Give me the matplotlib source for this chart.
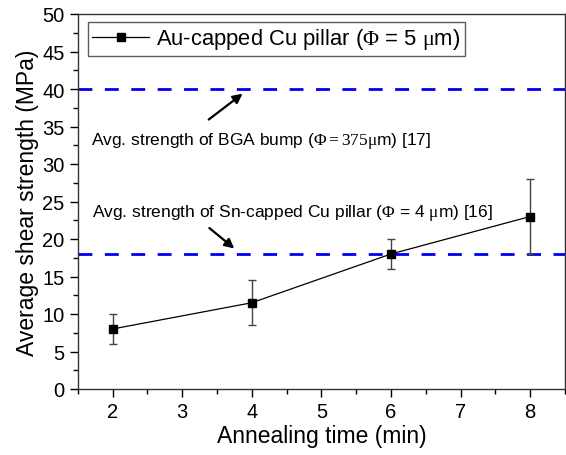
import numpy as np
import matplotlib
matplotlib.use("Agg")
import matplotlib.pyplot as plt
from matplotlib.ticker import MultipleLocator

plt.rcParams['font.family'] = ['Liberation Sans', 'DejaVu Sans']
plt.rcParams['mathtext.fontset'] = 'custom'
plt.rcParams['mathtext.rm'] = 'Liberation Serif'
plt.rcParams['mathtext.it'] = 'Liberation Serif'

# data
anneal_time = [2, 4, 6, 8]
shear_strength = [8.0, 11.5, 18.0, 23.0]
shear_err = [2.0, 3.0, 2.0, 5.0]
bga_strength = 40.0
sn_strength = 18.0

fig = plt.figure(figsize=(5.66, 4.56), dpi=100)
ax = fig.add_axes([77.7 / 566, 1 - 390 / 456, (565 - 77.7) / 566, (390 - 15) / 456])

# reference lines
ax.axhline(bga_strength, color='#0000ee', linestyle=(0, (5, 4.5)), linewidth=2)
ax.axhline(sn_strength, color='#0000ee', linestyle=(0, (5, 4.5)), linewidth=2)

ax.errorbar(anneal_time, shear_strength, yerr=shear_err, color='black', marker='s',
            markersize=6, linewidth=0.9, ecolor='#444444', elinewidth=1.0,
            capsize=3, capthick=1.0)
ax.plot([], [], color='black', marker='s', markersize=6, linewidth=0.9,
        label=r'Au-capped Cu pillar ($\Phi$ = 5 $\mu$m)')

# annotations
ax.annotate('', xy=(3.9, 39.6), xytext=(3.35, 35.7),
            arrowprops=dict(arrowstyle='-|>', color='black', lw=1.6, mutation_scale=14))
ax.text(1.69, 33.2, r'Avg. strength of BGA bump ($\Phi = 375\mu$m) [17]',
        fontsize=12.5, va='center', ha='left')
ax.annotate('', xy=(3.78, 18.5), xytext=(3.36, 21.7),
            arrowprops=dict(arrowstyle='-|>', color='black', lw=1.6, mutation_scale=14))
ax.text(1.71, 23.6, r'Avg. strength of Sn-capped Cu pillar ($\Phi$ = 4 $\mu$m) [16]',
        fontsize=12.5, va='center', ha='left')

ax.set_xlim(1.5, 8.5)
ax.set_ylim(0, 50)
ax.xaxis.set_major_locator(MultipleLocator(1))
ax.xaxis.set_minor_locator(MultipleLocator(0.5))
ax.yaxis.set_major_locator(MultipleLocator(5))
ax.yaxis.set_minor_locator(MultipleLocator(2.5))
ax.tick_params(which='major', direction='out', length=6, width=1, labelsize=14.5)
ax.tick_params(which='minor', direction='out', length=3.5, width=1)
for sp in ax.spines.values():
    sp.set_color('#333333')
    sp.set_linewidth(1.0)

ax.set_xlabel('Annealing time (min)', fontsize=16.5, labelpad=2)
ax.set_ylabel('Average shear strength (MPa)', fontsize=16.5, labelpad=2)

leg = ax.legend(loc='upper left', bbox_to_anchor=(0.021, 0.979), borderaxespad=0,
                fontsize=15.8, frameon=True, fancybox=False, edgecolor='#333333',
                handlelength=2.6, borderpad=0.2, handletextpad=0.3)
leg.get_frame().set_linewidth(1.0)

fig.savefig('out.png', dpi=100)
